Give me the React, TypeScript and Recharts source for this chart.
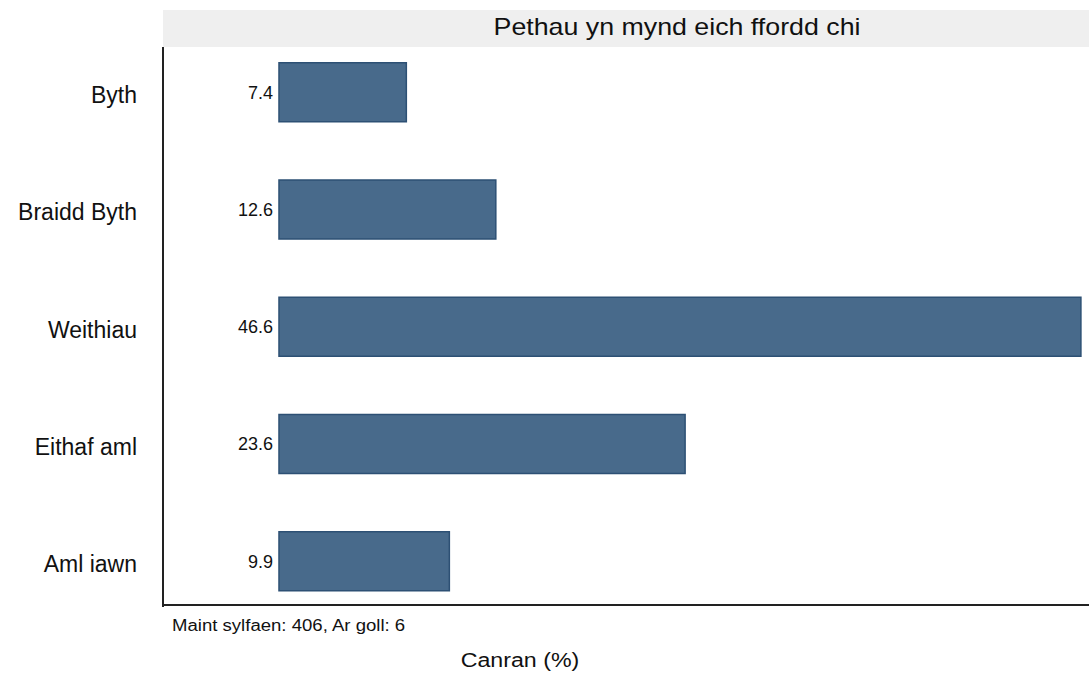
import { Bar, BarChart, LabelList, XAxis, YAxis } from "recharts";

const categories = ["Byth", "Braidd Byth", "Weithiau", "Eithaf aml", "Aml iawn"];
const percentages = [7.4, 12.6, 46.6, 23.6, 9.9];

const data = categories.map((name, i) => ({ name, value: percentages[i] }));

const font = "'Liberation Sans', Arial, sans-serif";

function App() {
  return (
    <div
      style={{
        position: "absolute",
        left: 0,
        top: 0,
        width: 1089,
        height: 675,
        background: "#ffffff",
        fontFamily: font,
        overflow: "hidden",
      }}
    >
      {/* title strip */}
      <div
        style={{
          position: "absolute",
          left: 163,
          top: 10,
          width: 926,
          height: 37,
          background: "#efefef",
        }}
      />
      <div
        style={{
          position: "absolute",
          left: 677,
          top: 13,
          transform: "translateX(-50%) scaleX(1.115)",
          fontSize: 24,
          color: "#111",
          whiteSpace: "nowrap",
        }}
      >
        Pethau yn mynd eich ffordd chi
      </div>

      <div style={{ position: "absolute", left: 0, top: 0 }}>
        <BarChart
          width={1089}
          height={675}
          data={data}
          layout="vertical"
          margin={{ top: 33.4, right: 0, bottom: 55.4, left: 0 }}
          barCategoryGap="25%"
        >
          <XAxis
            type="number"
            hide
            domain={[-6.74, 47.07]}
            allowDataOverflow
          />
          <YAxis
            type="category"
            dataKey="name"
            width={163}
            axisLine={false}
            tickLine={false}
            tickMargin={20}
            tick={{ fontSize: 23, fill: "#111", fontFamily: font, dy: 3 }}
          />
          <Bar
            dataKey="value"
            fill="#486a8b"
            stroke="#2d5074"
            strokeWidth={1.5}
            isAnimationActive={false}
          >
            <LabelList
              dataKey="value"
              position="left"
              offset={6}
              style={{ fontSize: 18, fill: "#111", fontFamily: font }}
            />
          </Bar>
        </BarChart>
      </div>

      {/* axis frame */}
      <div
        style={{
          position: "absolute",
          left: 162,
          top: 47,
          width: 2,
          height: 560,
          background: "#222",
        }}
      />
      <div
        style={{
          position: "absolute",
          left: 162,
          top: 604,
          width: 927,
          height: 2,
          background: "#222",
        }}
      />

      <div
        style={{
          position: "absolute",
          left: 172,
          top: 617,
          fontSize: 16,
          color: "#111",
          whiteSpace: "nowrap",
          transform: "scaleX(1.16)",
          transformOrigin: "left center",
        }}
      >
        Maint sylfaen: 406, Ar goll: 6
      </div>
      <div
        style={{
          position: "absolute",
          left: 520,
          top: 649,
          transform: "translateX(-50%) scaleX(1.16)",
          fontSize: 20,
          color: "#111",
          whiteSpace: "nowrap",
        }}
      >
        Canran (%)
      </div>
    </div>
  );
}

export default App;
